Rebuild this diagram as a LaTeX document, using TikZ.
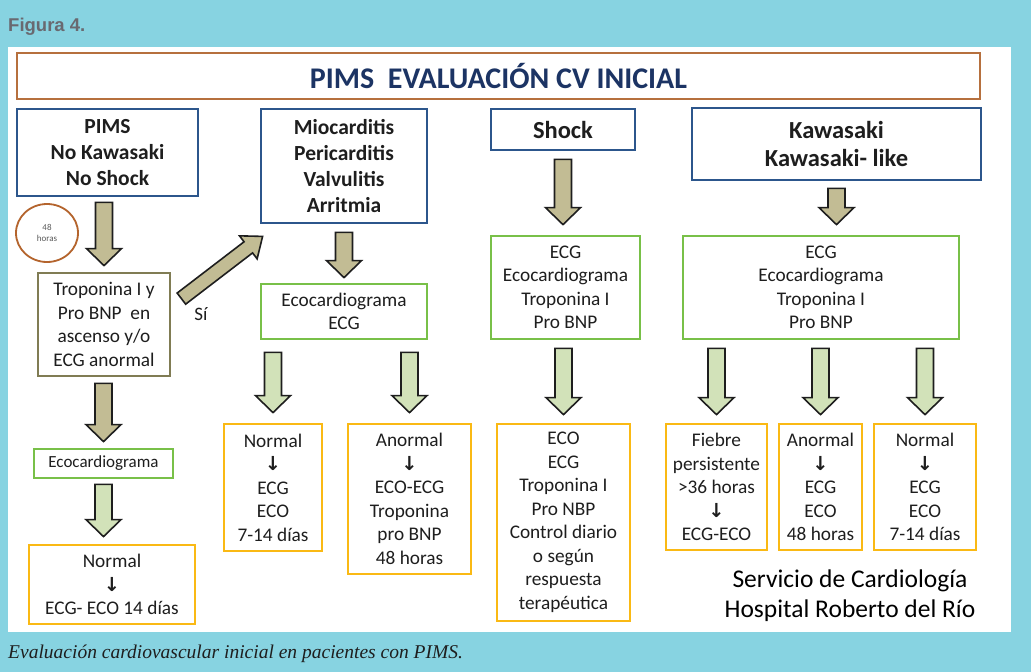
\documentclass[tikz,border=0pt]{standalone}
\usepackage{fontspec}
\setmainfont{Carlito}
\newfontfamily\symfont{DejaVu Sans}
\newfontfamily\figfont{Liberation Sans}
\newfontfamily\capfont{Liberation Serif}
\usetikzlibrary{calc,shapes.geometric}
\definecolor{bgcyan}{RGB}{135,211,225}
\definecolor{figgray}{RGB}{105,105,112}
\definecolor{ink}{RGB}{30,30,30}
\definecolor{titlebrown}{RGB}{182,112,62}
\definecolor{titleblue}{RGB}{28,52,100}
\definecolor{boxblue}{RGB}{44,86,140}
\definecolor{boxgreen}{RGB}{120,192,72}
\definecolor{boxorange}{RGB}{250,185,20}
\definecolor{olivebox}{RGB}{128,124,84}
\definecolor{circbrown}{RGB}{180,100,45}
\definecolor{arrowtan}{RGB}{194,188,148}
\definecolor{arrowgreen}{RGB}{210,226,185}
\definecolor{arrowline}{RGB}{30,30,30}
\newcommand\dn{{\symfont\bfseries ↓}}
\newcommand\blockarrow[6]{%
  \coordinate (baA) at (#2);
  \coordinate (baB) at (#3);
  \coordinate (baH) at ($(baB)!#6!(baA)$);
  \draw[#1] ($(baA)!#4!90:(baB)$) -- ($(baH)!#4!90:(baB)$) -- ($(baH)!#5!90:(baB)$) -- (baB)
     -- ($(baH)!#5!-90:(baB)$) -- ($(baH)!#4!-90:(baB)$) -- ($(baA)!#4!-90:(baB)$) -- cycle;}
\newcommand\downT[5]{\blockarrow{#1}{$(#2.south -| #3.north)+(0pt,-#4)$}{$(#3.north)+(0pt,#5)$}{8.5pt}{17.5pt}{17pt}}
\newcommand\downS[5]{\blockarrow{#1}{$(#2.south)+(0pt,-#4)$}{$(#3.north -| #2.south)+(0pt,#5)$}{8.5pt}{17.5pt}{17pt}}
\begin{document}
\begin{tikzpicture}[x=1pt,y=-1pt,
  bx/.style={draw, line width=2.8pt, inner sep=0pt, align=center, text=ink},
  sz/.style 2 args={minimum width=#1, minimum height=#2},
  bodyfont/.style={font=\fontsize{19.3}{23.5}\selectfont},
  titlebox/.style={bx, draw=titlebrown, text=titleblue, font=\bfseries\fontsize{30}{34}\selectfont},
  bluebox/.style={bx, draw=boxblue, font=\bfseries\fontsize{21.5}{26.3}\selectfont},
  bigblue/.style={bx, draw=boxblue, font=\bfseries\fontsize{24.5}{28}\selectfont},
  greenbox/.style={bx, draw=boxgreen, bodyfont},
  orangebox/.style={bx, draw=boxorange, bodyfont},
  olivebx/.style={bx, draw=olivebox, bodyfont},
  tanarrow/.style={fill=arrowtan, draw=arrowline, line width=1.6pt, line join=miter},
  greenarrow/.style={fill=arrowgreen, draw=arrowline, line width=1.6pt, line join=miter},
  plain/.style={inner sep=0pt, text=ink}]
\useasboundingbox (0,0) rectangle (1031,672);
\fill[bgcyan] (0,0) rectangle (1031,672);
\fill[white] (8,47) rectangle (1011,632);
\node[plain, anchor=base west, text=figgray, font=\figfont\bfseries\fontsize{18.5}{22}\selectfont] (fig) at (8,31) {Figura 4.};
\node[plain, anchor=base west, font=\capfont\itshape\fontsize{19.5}{23}\selectfont] (cap) at (8,658) {Evaluación cardiovascular inicial en pacientes con PIMS.};

\node[titlebox, sz={963}{46}] (title) at (498.5,76) {PIMS\ \ EVALUACIÓN CV INICIAL};

\node[bluebox, sz={181}{87}] (pims) at (107.5,152.5) {PIMS\\No Kawasaki\\No Shock};
\node[bluebox, sz={166}{114}] (mioc) at (344,166) {Miocarditis\\Pericarditis\\Valvulitis\\Arritmia};
\node[bigblue, sz={144}{41}] (shock) at (563,129.5) {Shock};
\node[bigblue, sz={289}{72}] (kaw) at (836.5,144) {Kawasaki\\Kawasaki- like};

\node[ellipse, draw=circbrown, line width=1.8pt, minimum width=62, minimum height=58, inner sep=0pt, align=center, text=black!65, font=\fontsize{9}{11}\selectfont] (circ) at (47,233) {48\\horas};

\node[olivebx, sz={132}{103}] (trop) at (104,324.5) {Troponina I y\\Pro BNP\ \ en\\ascenso y/o\\ECG anormal};
\node[greenbox, sz={139}{29}, font=\fontsize{17}{20}\selectfont] (ecoL) at (103.5,463.5) {Ecocardiograma};
\node[orangebox, sz={166}{79}] (normL) at (112,584.5) {Normal\\\dn\\ECG- ECO 14 días};

\node[greenbox, sz={166}{55}] (ecoM) at (344,311.5) {Ecocardiograma\\ECG};
\node[orangebox, sz={98}{127}] (normM) at (273,487.5) {Normal\\\dn\\ECG\\ECO\\7-14 días};
\node[orangebox, sz={123}{150}] (anorM) at (409.5,499) {Anormal\\\dn\\ECO-ECG\\Troponina\\pro BNP\\48 horas};

\node[greenbox, sz={149}{103}] (ecgS) at (565.5,287.5) {ECG\\Ecocardiograma\\Troponina I\\Pro BNP};
\node[orangebox, sz={133}{197}] (ecoS) at (563.5,522.5) {ECO\\ECG\\Troponina I\\Pro NBP\\Control diario\\o según\\respuesta\\terapéutica};

\node[greenbox, sz={276}{103}] (ecgK) at (821,287.5) {ECG\\Ecocardiograma\\Troponina I\\Pro BNP};
\node[orangebox, sz={101}{126}] (fieb) at (716.5,487) {Fiebre\\persistente\\>36 horas\\\dn\\ECG-ECO};
\node[orangebox, sz={83}{126}] (anorK) at (820.5,487) {Anormal\\\dn\\ECG\\ECO\\48 horas};
\node[orangebox, sz={102}{126}] (normK) at (925,487) {Normal\\\dn\\ECG\\ECO\\7-14 días};

\node[plain, anchor=base, font=\fontsize{19}{23}\selectfont] (si) at (201,320) {Sí};
\node[plain, anchor=base, text=black, font=\fontsize{25.5}{30}\selectfont] (serv1) at (850,587) {Servicio de Cardiología};
\node[plain, anchor=base, text=black, font=\fontsize{25.5}{30}\selectfont] (serv2) at (850,617) {Hospital Roberto del Río};

\downT{tanarrow}{pims}{trop}{5pt}{6pt}
\downT{tanarrow}{trop}{ecoL}{6pt}{6pt}
\downS{greenarrow}{ecoL}{normL}{5pt}{7pt}
\downT{tanarrow}{mioc}{ecoM}{8pt}{5pt}
\downT{greenarrow}{ecoM}{normM}{12pt}{10pt}
\downT{greenarrow}{ecoM}{anorM}{12pt}{10pt}
\downS{tanarrow}{shock}{ecgS}{8pt}{10pt}
\downT{greenarrow}{ecgS}{ecoS}{8pt}{8pt}
\downS{tanarrow}{kaw}{ecgK}{7pt}{10pt}
\downT{greenarrow}{ecgK}{fieb}{8pt}{8pt}
\downT{greenarrow}{ecgK}{anorK}{8pt}{8pt}
\downT{greenarrow}{ecgK}{normK}{8pt}{8pt}
\blockarrow{tanarrow}{$(trop.north east)+(10pt,-27pt)$}{$(mioc.south west)+(3pt,-12pt)$}{7pt}{14.5pt}{18pt}
\end{tikzpicture}
\end{document}
